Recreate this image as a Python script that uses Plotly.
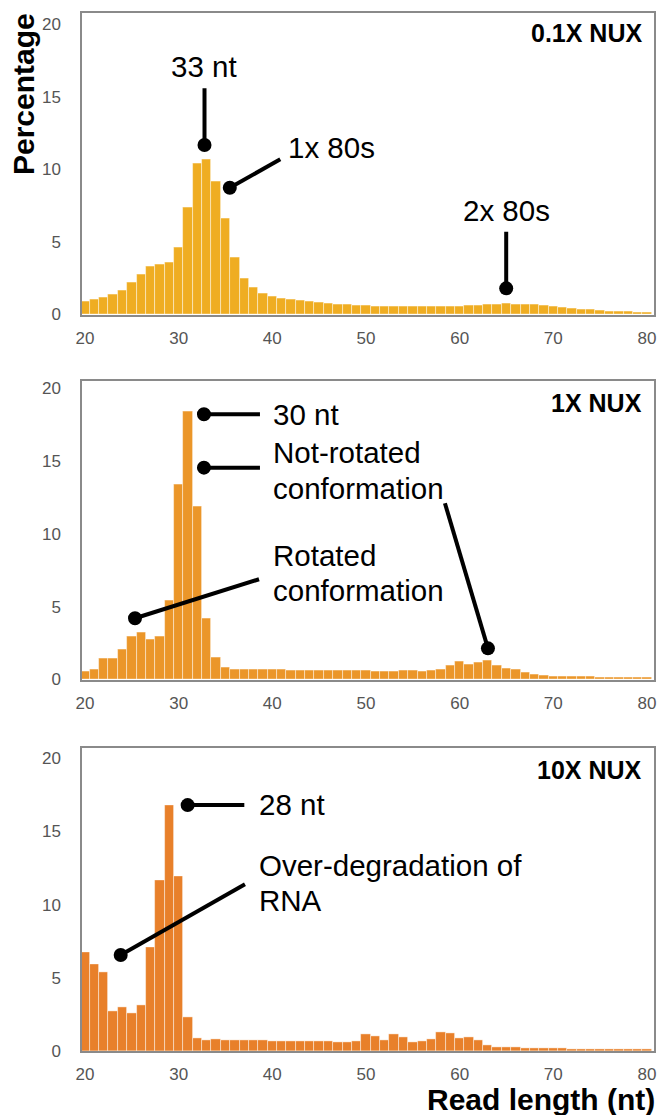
import plotly.graph_objects as go

# ---------------- data ----------------
read_length = list(range(20, 81))

pct_01x = [0.92, 1.03, 1.20, 1.36, 1.68, 2.18, 2.76, 3.29, 3.45, 3.59,
           4.62, 7.36, 10.39, 10.69, 9.17, 6.62, 3.91, 2.50, 1.84, 1.45,
           1.26, 1.12, 1.04, 0.98, 0.90, 0.83, 0.77, 0.72, 0.67, 0.64,
           0.61, 0.58, 0.56, 0.54, 0.53, 0.52, 0.52, 0.52, 0.53, 0.55,
           0.57, 0.60, 0.64, 0.67, 0.71, 0.74, 0.72, 0.70, 0.66, 0.60,
           0.54, 0.48, 0.42, 0.37, 0.32, 0.28, 0.24, 0.21, 0.18, 0.16,
           0.14]

pct_1x = [0.57, 0.71, 1.46, 1.42, 2.05, 2.97, 3.20, 2.72, 2.97, 5.41,
          13.38, 18.42, 11.90, 4.20, 1.48, 0.84, 0.68, 0.68, 0.67, 0.67,
          0.66, 0.66, 0.65, 0.64, 0.63, 0.62, 0.62, 0.61, 0.60, 0.60,
          0.60, 0.58, 0.55, 0.57, 0.62, 0.60, 0.58, 0.62, 0.68, 0.96,
          1.21, 1.05, 1.16, 1.30, 0.96, 0.73, 0.66, 0.48, 0.34, 0.27,
          0.23, 0.20, 0.20, 0.18, 0.18, 0.16, 0.16, 0.16, 0.14, 0.14,
          0.14]

pct_10x = [6.72, 5.90, 5.35, 2.71, 2.96, 2.55, 3.12, 7.06, 11.64, 16.79,
           11.91, 2.32, 0.89, 0.75, 0.80, 0.72, 0.72, 0.74, 0.72, 0.71,
           0.69, 0.68, 0.67, 0.66, 0.64, 0.64, 0.66, 0.62, 0.62, 0.64,
           1.12, 1.00, 0.74, 1.15, 0.97, 0.59, 0.68, 0.80, 1.30, 1.18,
           0.85, 0.93, 0.71, 0.40, 0.28, 0.25, 0.23, 0.21, 0.20, 0.18,
           0.17, 0.16, 0.15, 0.15, 0.14, 0.14, 0.13, 0.13, 0.12, 0.12,
           0.11]

panel_titles = ["0.1X NUX", "1X NUX", "10X NUX"]
bar_colors = ["#EFAD22", "#EB9629", "#E8802A"]
x_ticks = [20, 30, 40, 50, 60, 70, 80]
y_ticks = [0, 5, 10, 15, 20]

# ---------------- layout geometry ----------------
# The page body has an 8px margin, so figure pixel = page pixel - 8.
OFF = 8
W, H = 663, 1107
FONT = "Liberation Sans, Arial, Helvetica, sans-serif"

def px_x(X):
    return (X - OFF) / W

def px_y(Y):
    return 1 - (Y - OFF) / H

x_dom = [px_x(82), px_x(654)]
# panel page-pixel (top, bottom) and y range top
panels = [(12.5, 314.5, 20.8), (380.5, 679.5, 20.55), (748.3, 1051.0, 20.68)]

fig = go.Figure()
series = [pct_01x, pct_1x, pct_10x]
for i, vals in enumerate(series):
    sfx = "" if i == 0 else str(i + 1)
    fig.add_trace(go.Bar(
        x=read_length, y=vals, width=1,
        marker=dict(color=bar_colors[i],
                    line=dict(color="rgba(255,255,255,0.55)", width=0.8)),
        xaxis="x" + sfx, yaxis="y" + sfx, showlegend=False, hoverinfo="x+y"))

axis_style = dict(showline=True, mirror=True, linecolor="#8a8a8a", linewidth=1.5,
                  showgrid=False, zeroline=False, ticks="",
                  tickfont=dict(family=FONT, size=17, color="#555555"))

layout = dict(width=W, height=H, autosize=False,
              margin=dict(l=0, r=0, t=0, b=0, autoexpand=False),
              paper_bgcolor="white", plot_bgcolor="white",
              bargap=0, showlegend=False)

for i, (top, bot, ytop) in enumerate(panels):
    sfx = "" if i == 0 else str(i + 1)
    layout["xaxis" + sfx] = dict(axis_style, domain=x_dom, range=[19.68, 80.75],
                                 tickvals=x_ticks, anchor="y" + sfx,
                                 ticklabelstandoff=7)
    layout["yaxis" + sfx] = dict(axis_style, domain=[px_y(bot), px_y(top)],
                                 range=[0, ytop], tickvals=y_ticks,
                                 anchor="x" + sfx, ticklabelstandoff=16)

fig.update_layout(**layout)

annotations = []
shapes = []
ANN_SIZE = 29.5

def label(text, x, y, ax, anchor="left"):
    annotations.append(dict(
        text=text, x=x, y=y, xref="x" + ax, yref="y" + ax,
        xanchor=anchor, yanchor="middle", showarrow=False,
        font=dict(family=FONT, size=ANN_SIZE, color="black")))

def seg(x0, y0, x1, y1, ax):
    shapes.append(dict(type="line", x0=x0, y0=y0, x1=x1, y1=y1,
                       xref="x" + ax, yref="y" + ax,
                       line=dict(color="black", width=4)))

def dot(x, y, ax):
    shapes.append(dict(type="circle", xref="x" + ax, yref="y" + ax,
                       xsizemode="pixel", ysizemode="pixel", xanchor=x, yanchor=y,
                       x0=-7, x1=7, y0=-7, y1=7,
                       fillcolor="black", line=dict(width=0)))

# panel 1
label("33 nt", 32.70, 17.07, "", anchor="center")
seg(32.76, 15.58, 32.76, 11.67, ""); dot(32.76, 11.67, "")
seg(35.46, 8.73, 40.85, 10.69, ""); dot(35.46, 8.73, "")
label("1x 80s", 41.44, 11.47, "")
label("2x 80s", 64.95, 7.13, "", anchor="center")
seg(64.97, 5.70, 64.97, 1.80, ""); dot(64.97, 1.80, "")

# panel 2
seg(32.70, 18.23, 38.68, 18.23, "2"); dot(32.70, 18.23, "2")
label("30 nt", 39.86, 18.18, "2")
seg(32.70, 14.56, 38.68, 14.56, "2"); dot(32.70, 14.56, "2")
label("Not-rotated", 39.86, 15.59, "2")
label("conformation", 39.86, 13.14, "2")
seg(25.34, 4.21, 38.58, 6.89, "2"); dot(25.34, 4.21, "2")
label("Rotated", 39.86, 8.49, "2")
label("conformation", 39.86, 6.10, "2")
seg(58.43, 12.11, 63.02, 2.14, "2"); dot(63.02, 2.14, "2")

# panel 3
seg(30.96, 16.80, 37.01, 16.80, "3"); dot(30.96, 16.80, "3")
label("28 nt", 38.33, 16.87, "3")
seg(23.81, 6.56, 37.08, 11.39, "3"); dot(23.81, 6.56, "3")
label("Over-degradation of", 38.33, 12.70, "3")
label("RNA", 38.33, 10.31, "3")

# panel titles
title_centers = [33.3, 402.5, 770.0]
for t, yc in zip(panel_titles, title_centers):
    annotations.append(dict(
        text="<b>%s</b>" % t, x=px_x(644), y=px_y(yc), xref="paper", yref="paper",
        xanchor="right", yanchor="middle", showarrow=False,
        font=dict(family=FONT, size=25, color="black")))

# axis titles
annotations.append(dict(text="<b>Percentage</b>", x=px_x(23), y=px_y(94),
                        xref="paper", yref="paper", xanchor="center",
                        yanchor="middle", textangle=-90, showarrow=False,
                        font=dict(family=FONT, size=30, color="black")))
annotations.append(dict(text="<b>Read length (nt)</b>", x=px_x(657), y=px_y(1099),
                        xref="paper", yref="paper", xanchor="right",
                        yanchor="middle", showarrow=False,
                        font=dict(family=FONT, size=30, color="black")))

# right-edge crop of the original figure
shapes.append(dict(type="rect", xref="paper", yref="paper", x0=px_x(657), x1=1.0,
                   y0=0, y1=1, fillcolor="white", line=dict(width=0), layer="above"))

fig.update_layout(annotations=annotations, shapes=shapes)
fig.write_html("out.html")
